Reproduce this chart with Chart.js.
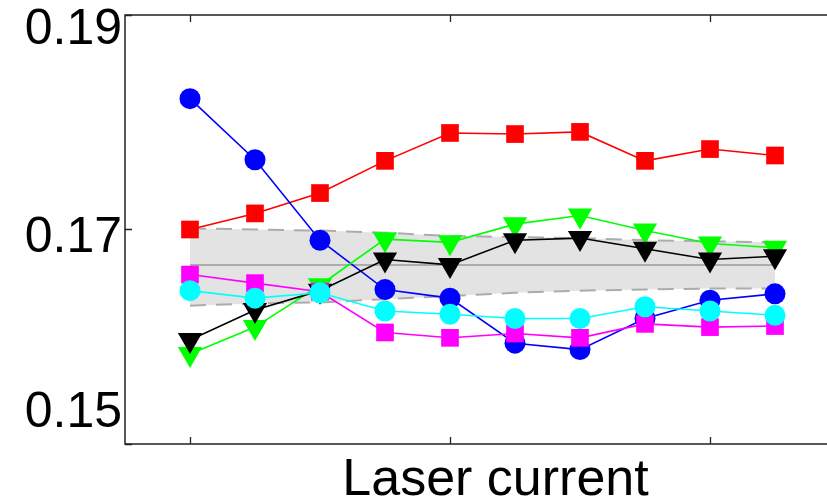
<!DOCTYPE html>
<html>
<head>
<meta charset="utf-8">
<script src="https://cdn.jsdelivr.net/npm/chart.js@4/dist/chart.umd.min.js"></script>
<style>
  html, body { margin: 0; padding: 0; background: #fff; overflow: hidden; }
  #wrap { position: relative; width: 880px; height: 501px; }
</style>
</head>
<body>
<div id="wrap"><canvas id="c"></canvas></div>
<script>
// Measurement steps along the laser-current sweep
const steps = [0, 1, 2, 3, 4, 5, 6, 7, 8, 9];

// Series values
const redSeries     = [0.1700, 0.1715, 0.1734, 0.1764, 0.1790, 0.1789, 0.1791, 0.1764, 0.1775, 0.1769];
const blueSeries    = [0.1822, 0.1765, 0.1690, 0.1644, 0.1636, 0.1594, 0.1588, 0.1617, 0.1634, 0.1640];
const greenSeries   = [0.1584, 0.1609, 0.1648, 0.1691, 0.1688, 0.1705, 0.1713, 0.1699, 0.1687, 0.1683];
const blackSeries   = [0.1597, 0.1625, 0.1643, 0.1672, 0.1667, 0.1690, 0.1692, 0.1682, 0.1672, 0.1675];
const magentaSeries = [0.1658, 0.1650, 0.1642, 0.1604, 0.1599, 0.1603, 0.1599, 0.1612, 0.1609, 0.1610];
const cyanSeries    = [0.1643, 0.1636, 0.1641, 0.1624, 0.1621, 0.1617, 0.1617, 0.1628, 0.1624, 0.1620];

// Shaded reference band (upper / lower edge and centre line)
const bandUpper = [0.1701, 0.1700, 0.1699, 0.1697, 0.1694, 0.1693, 0.1692, 0.1690, 0.1689, 0.1688];
const bandLower = [0.1629, 0.1631, 0.1632, 0.1635, 0.1638, 0.1641, 0.1643, 0.1644, 0.1645, 0.1645];
const bandMean  = [0.1667, 0.1667, 0.1667, 0.1667, 0.1667, 0.1667, 0.1667, 0.1667, 0.1667, 0.1667];

// Axis ticks and labels
const xTicks = [0, 4, 8];
const yTicks = [0.15, 0.17, 0.19];
const yTickLabels = ['0.15', '0.17', '0.19'];
const xTitle = 'Laser current';

const pts = arr => arr.map((v, i) => ({ x: steps[i], y: v }));

function series(values, color, style, radius, order, rotation) {
  return {
    data: pts(values),
    borderColor: color,
    backgroundColor: color,
    borderWidth: 1.6,
    pointStyle: style,
    pointRadius: radius,
    pointRotation: rotation || 0,
    pointBorderWidth: 0,
    pointBackgroundColor: color,
    fill: false,
    tension: 0,
    order: order
  };
}

const framePlugin = {
  id: 'frame',
  afterDraw(chart) {
    const ctx = chart.ctx;
    const a = chart.chartArea;
    const xs = chart.scales.x, ys = chart.scales.y;
    ctx.save();
    // axes box
    ctx.strokeStyle = '#222';
    ctx.lineWidth = 1.5;
    ctx.strokeRect(a.left, a.top, a.right - a.left, a.bottom - a.top);
    // inward tick marks
    ctx.lineWidth = 1.3;
    ctx.beginPath();
    xTicks.forEach(t => {
      const px = Math.round(xs.getPixelForValue(t)) + 0.5;
      ctx.moveTo(px, a.bottom); ctx.lineTo(px, a.bottom - 7);
      ctx.moveTo(px, a.top); ctx.lineTo(px, a.top + 7);
    });
    yTicks.forEach(t => {
      const py = Math.round(ys.getPixelForValue(t)) + 0.5;
      ctx.moveTo(a.left, py); ctx.lineTo(a.left + 7, py);
      ctx.moveTo(a.right, py); ctx.lineTo(a.right - 7, py);
    });
    ctx.stroke();
    // y tick labels, kept inside the vertical extent of the box
    ctx.fillStyle = '#000';
    ctx.font = '50px "Liberation Sans", Arial, sans-serif';
    ctx.textAlign = 'right';
    ctx.textBaseline = 'middle';
    yTicks.forEach((t, i) => {
      let py = ys.getPixelForValue(t) + 9;
      py = Math.min(Math.max(py, a.top + 15), a.bottom - 31);
      ctx.fillText(yTickLabels[i], a.left - 3, py);
    });
    // x axis title
    ctx.font = '52px "Liberation Sans", Arial, sans-serif';
    ctx.textAlign = 'center';
    ctx.textBaseline = 'alphabetic';
    ctx.fillText(xTitle, (a.left + a.right) / 2, 495);
    ctx.restore();
  }
};

new Chart(document.getElementById('c'), {
  type: 'line',
  data: {
    datasets: [
      series(cyanSeries,    '#00ffff', 'circle',   10.5, 1),
      series(magentaSeries, '#ff00ff', 'rect',     12.5, 2),
      series(blackSeries,   '#000000', 'triangle', 14,   3, 180),
      series(greenSeries,   '#00ff00', 'triangle', 14,   4, 180),
      series(blueSeries,    '#0000ff', 'circle',   10.5, 5),
      series(redSeries,     '#ff0000', 'rect',     12.5, 6),
      {
        data: pts(bandMean), borderColor: '#9a9a9a', borderWidth: 1.5,
        pointRadius: 0, fill: false, order: 10
      },
      {
        data: pts(bandUpper), borderColor: '#acacac', borderWidth: 2,
        borderDash: [16, 10], pointRadius: 0, fill: false, order: 11
      },
      {
        data: pts(bandLower), borderColor: '#acacac', borderWidth: 2,
        borderDash: [16, 10], pointRadius: 0,
        fill: '-1', backgroundColor: '#e3e3e3', order: 12
      }
    ]
  },
  options: {
    responsive: true,
    maintainAspectRatio: false,
    animation: false,
    events: [],
    layout: { padding: { left: 125, top: 15, right: 11, bottom: 57 } },
    plugins: { legend: { display: false }, tooltip: { enabled: false }, filler: { propagate: false } },
    scales: {
      x: {
        type: 'linear', min: -1, max: 10.4,
        grid: { display: false, drawTicks: false },
        border: { display: false },
        ticks: { display: false },
        afterFit: s => { s.height = 0; }
      },
      y: {
        type: 'linear', min: 0.15, max: 0.19,
        grid: { display: false, drawTicks: false },
        border: { display: false },
        ticks: { display: false },
        afterFit: s => { s.width = 0; }
      }
    }
  },
  plugins: [framePlugin]
});
</script>
</body>
</html>
